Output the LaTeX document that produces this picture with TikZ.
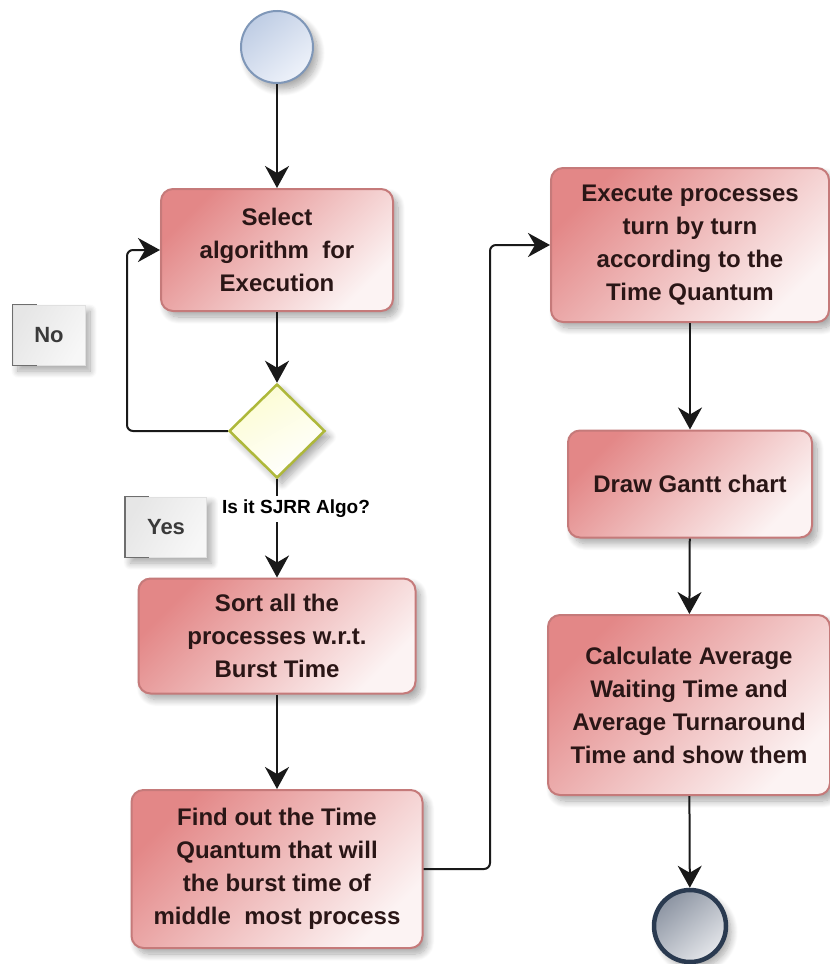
\documentclass[tikz,border=0pt]{standalone}
\usepackage{fontspec}
\setmainfont{Liberation Sans}
\usetikzlibrary{arrows.meta,shapes.geometric,shadows.blur}

\definecolor{boxtop}{HTML}{E38787}
\definecolor{boxbot}{HTML}{FCF3F3}
\definecolor{boxline}{HTML}{C57A7A}
\definecolor{boxtext}{HTML}{2A1616}
\definecolor{diafill}{HTML}{FCFCD2}
\definecolor{dialine}{HTML}{AEB83A}
\definecolor{starttop}{HTML}{BFCDE4}
\definecolor{startbot}{HTML}{EEF2FA}
\definecolor{startline}{HTML}{7F97B8}
\definecolor{endtop}{HTML}{8C94A2}
\definecolor{endbot}{HTML}{E4E6EA}
\definecolor{endline}{HTML}{2A3A50}
\definecolor{tagtop}{HTML}{E6E6E6}
\definecolor{tagbot}{HTML}{F7F7F7}
\definecolor{tagline}{HTML}{6E6E6E}
\definecolor{tagtext}{HTML}{3A3A3A}

\begin{document}
\begin{tikzpicture}[x=1pt,y=-1pt,
  softshadow/.style={blur shadow={shadow xshift=5pt,shadow yshift=-6pt,
      shadow blur radius=7pt,shadow blur steps=10,shadow opacity=35}},
  task/.style={rectangle,rounded corners=12pt,draw=boxline,line width=2pt,
      top color=boxtop,bottom color=boxbot,shading angle=45,softshadow,
      align=center,inner sep=0pt,text=boxtext,
      font=\fontsize{24}{33}\selectfont\bfseries},
  decision/.style={diamond,draw=dialine,line width=2.5pt,
      top color=diafill,bottom color=white,shading angle=30,softshadow,
      minimum width=96pt,minimum height=94pt,inner sep=0pt},
  startnode/.style={circle,draw=startline,line width=2pt,minimum size=72pt,
      top color=starttop,bottom color=startbot,shading angle=40,softshadow},
  endnode/.style={circle,draw=endline,line width=4.5pt,minimum size=72pt,
      top color=endtop,bottom color=endbot,shading angle=40,softshadow},
  tag/.style={rectangle,draw=black!12,line width=0.8pt,
      top color=tagtop,bottom color=tagbot,shading angle=60,softshadow,
      text=tagtext,inner sep=0pt,font=\fontsize{22}{26}\selectfont\bfseries},
  bracket/.style={draw=tagline,line width=1.6pt},
  conn/.style={draw=black!90,line width=2pt,
      -{Stealth[length=22pt,width=24pt,inset=7pt]}},
  elbow/.style={conn,rounded corners=6pt},
  question/.style={fill=white,inner sep=4pt,pos=0.3,xshift=19pt,
      font=\fontsize{19}{22}\selectfont\bfseries}
]
\useasboundingbox (0,0) rectangle (830,964);

% first column
\node[startnode] (start) at (277,47) {};
\node[task,minimum width=232pt,minimum height=122pt] (b1) at (277,250)
  {Select\\algorithm~~for\\Execution};
\node[decision] (dia) at (277,431) {};
\node[task,minimum width=277pt,minimum height=115pt] (b3) at (277,636)
  {Sort all the\\processes w.r.t.\\Burst Time};
\node[task,minimum width=291pt,minimum height=158pt] (b4) at (277,869)
  {Find out the Time\\Quantum that will\\the burst time of\\middle~~most process};

% second column
\node[task,minimum width=278pt,minimum height=154pt] (b5) at (690,245)
  {Execute processes\\turn by turn\\according to the\\Time Quantum};
\node[task,minimum width=244pt,minimum height=107pt] (b6) at (690,484)
  {Draw Gantt chart};
\node[task,minimum width=282pt,minimum height=180pt] (b7) at (689,705)
  {Calculate Average\\Waiting Time and\\Average Turnaround\\Time and show them};
\node[endnode] (end) at (690,926) {};

% branch labels
\node[tag,minimum width=72pt,minimum height=60pt] (no) at (49,335) {No};
\node[tag,minimum width=81pt,minimum height=60pt] (yes) at (166,527) {Yes};
\draw[bracket] ([xshift=24pt]no.north west) -- (no.north west)
  -- (no.south west) -- ([xshift=24pt]no.south west);
\draw[bracket] ([xshift=24pt]yes.north west) -- (yes.north west)
  -- (yes.south west) -- ([xshift=24pt]yes.south west);

% routing points of the elbow connectors
\coordinate (loopx) at (127,431);
\coordinate (jump) at (490,600);

% connectors
\draw[conn] (start) -- (b1);
\draw[conn] (b1) -- (dia);
\draw[elbow] (dia.west) -- (dia.west -| loopx) -- (loopx |- b1.west) -- (b1.west);
\draw[conn] (dia.south) -- node[question] {Is it SJRR Algo?} (b3.north);
\draw[conn] (b3) -- (b4);
\draw[elbow] (b4.east) -- (b4.east -| jump) -- (jump |- b5.west) -- (b5.west);
\draw[conn] (b5) -- (b6);
\draw[conn] (b6) -- (b7);
\draw[conn] (b7) -- (end);
\end{tikzpicture}
\end{document}
